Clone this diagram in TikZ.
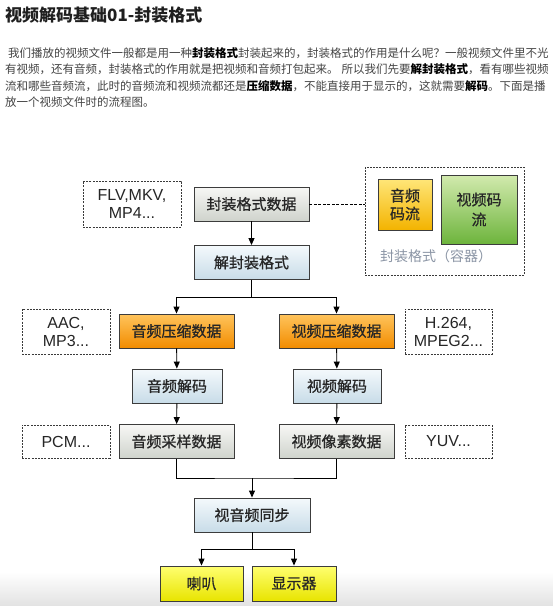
\documentclass[tikz,border=0pt]{standalone}
\usepackage{fontspec}
\setmainfont{Noto Sans CJK SC}
\newfontfamily\latinfont{Liberation Sans}
\newfontfamily\boxfont[FakeBold=0.8]{Noto Sans CJK SC}
\usetikzlibrary{arrows.meta}

\definecolor{boxline}{HTML}{3C3C3C}
\definecolor{boxtext}{HTML}{262626}
\definecolor{grayTop}{HTML}{F7F7F5}
\definecolor{grayBot}{HTML}{CFD3CC}
\definecolor{blueTop}{HTML}{F4F9FC}
\definecolor{blueBot}{HTML}{C8DCE8}
\definecolor{orangeTop}{HTML}{FFC45C}
\definecolor{orangeBot}{HTML}{F28C00}
\definecolor{ystrTop}{HTML}{FFE678}
\definecolor{ystrBot}{HTML}{F3B300}
\definecolor{greenTop}{HTML}{D2EAAE}
\definecolor{greenBot}{HTML}{6DB43C}
\definecolor{spkTop}{HTML}{FFFF70}
\definecolor{spkBot}{HTML}{E8E400}
\definecolor{noteline}{HTML}{3A3A3A}
\definecolor{labelgray}{HTML}{8B95A5}
\definecolor{paratext}{HTML}{444444}
\definecolor{bandgray}{HTML}{E2E2E2}

\newcommand\keyw[1]{\textcolor{black}{\bfseries #1}}

\begin{document}
\begin{tikzpicture}[x=1pt,y=-1pt,
  box/.style={draw=boxline,line width=0.9pt,minimum height=34pt,inner sep=0pt,
    font=\boxfont\fontsize{15}{18}\selectfont,text=boxtext},
  graybox/.style={box,top color=grayTop,bottom color=grayBot},
  bluebox/.style={box,top color=blueTop,bottom color=blueBot},
  orangebox/.style={box,top color=orangeTop,bottom color=orangeBot,minimum width=115pt},
  outbox/.style={box,top color=spkTop,bottom color=spkBot,minimum height=35pt},
  dashbox/.style={draw=noteline,dash pattern=on 2pt off 1.2pt,line width=1pt},
  notebox/.style={dashbox,fill=white,align=center,inner sep=0pt,text=boxtext,
    font=\latinfont\fontsize{16}{18}\selectfont},
  arr/.style={-{Triangle[length=7pt,width=6pt]},line width=0.9pt},
  link/.style={line width=0.9pt}
]
  \fill[white] (0,0) rectangle (553,606);
  \useasboundingbox (0,0) rectangle (553,606);
  \shade[top color=white,bottom color=bandgray] (0,572) rectangle (553,606);

  % title and text
  \node[anchor=base west,inner sep=0pt,font=\bfseries\fontsize{17}{20}\selectfont,text=black!88]
    (title) at (5,21.5) {视频解码基础01-封装格式};
  \foreach \i/\t in {
    1/{\hspace{3pt}我们播放的视频文件一般都是用一种\keyw{封装格式}封装起来的，封装格式的作用是什么呢？一般视频文件里不光},
    2/{有视频，还有音频，封装格式的作用就是把视频和音频打包起来。\hspace{3pt}所以我们先要\keyw{解封装格式}，看有哪些视频},
    3/{流和哪些音频流，此时的音频流和视频流都还是\keyw{压缩数据}，不能直接用于显示的，这就需要\keyw{解码}。下面是播},
    4/{放一个视频文件时的流程图。}}
    \node[anchor=base west,inner sep=0pt,font=\fontsize{11.5}{16}\selectfont,text=paratext]
      (line\i) at (5,41.1+16.3*\i) {\t};

  % main flow
  \node[graybox,minimum width=115pt] (feng) at (251.5,204) {封装格式数据};
  \node[bluebox,minimum width=115pt] (jie) at (251.5,262.5) {解封装格式};
  \node[orangebox] (acomp) at (176.5,331) {音频压缩数据};
  \node[orangebox] (vcomp) at (336.5,331) {视频压缩数据};
  \node[bluebox,minimum width=90pt] (adec) at (177,386) {音频解码};
  \node[bluebox,minimum width=88pt] (vdec) at (337,386) {视频解码};
  \node[graybox,minimum width=115pt] (asamp) at (176.5,441.5) {音频采样数据};
  \node[graybox,minimum width=115pt] (vsamp) at (336.5,441.5) {视频像素数据};
  \node[bluebox,minimum width=116pt] (sync) at (252,515) {视音频同步};
  \node[outbox,minimum width=83pt] (spk) at (201.5,583.5) {喇叭};
  \node[outbox,minimum width=84pt] (disp) at (294,583.5) {显示器};

  % container
  \node[dashbox,minimum width=159pt,minimum height=108pt] (cont) at (444.5,221) {};
  \node[box,top color=ystrTop,bottom color=ystrBot,minimum width=54pt,minimum height=51pt,
    align=center] (astr) at (405,204.5) {音频\\码流};
  \node[box,top color=greenTop,bottom color=greenBot,minimum width=76pt,minimum height=69pt,
    align=center,font=\boxfont\fontsize{15}{20}\selectfont] (vstr) at (479,209.5) {视频码\\流};
  \node[font=\fontsize{14}{16}\selectfont,text=labelgray] (contlabel) at (436,256) {封装格式（容器）};

  % format examples
  \foreach \n/\x/\y/\w/\h/\t in {fmt/132/204/98/46/{FLV,MKV,\\MP4...},
      aac/66/331.5/88/45/{AAC,\\MP3...}, h264/448.5/331.5/87/45/{H.264,\\MPEG2...},
      pcm/66/441.5/88/33/{PCM...}, yuv/448.5/441.5/87/33/{YUV...}}
    \node[notebox,minimum width=\w pt,minimum height=\h pt] (\n) at (\x,\y) {\t};

  % connectors
  \coordinate (split) at (251.5,297);
  \coordinate (merge) at (252,478);
  \coordinate (fork) at (252,549);
  \draw[link,dash pattern=on 3pt off 1.5pt] (feng.east) -- (feng.east -| cont.west);
  \draw[arr] (feng) -- (jie);
  \draw[link] (jie) -- (split);
  \draw[arr] (split) -| (acomp);
  \draw[arr] (split) -| (vcomp);
  \draw[arr] (acomp) -- (adec);
  \draw[arr] (adec) -- (asamp);
  \draw[arr] (vcomp) -- (vdec);
  \draw[arr] (vdec) -- (vsamp);
  \draw[link] (asamp) |- (merge) -| (vsamp);
  \draw[arr] (merge) -- (sync);
  \draw[link] (sync) -- (fork);
  \draw[arr] (fork) -| (spk);
  \draw[arr] (fork) -| (disp);
\end{tikzpicture}
\end{document}
